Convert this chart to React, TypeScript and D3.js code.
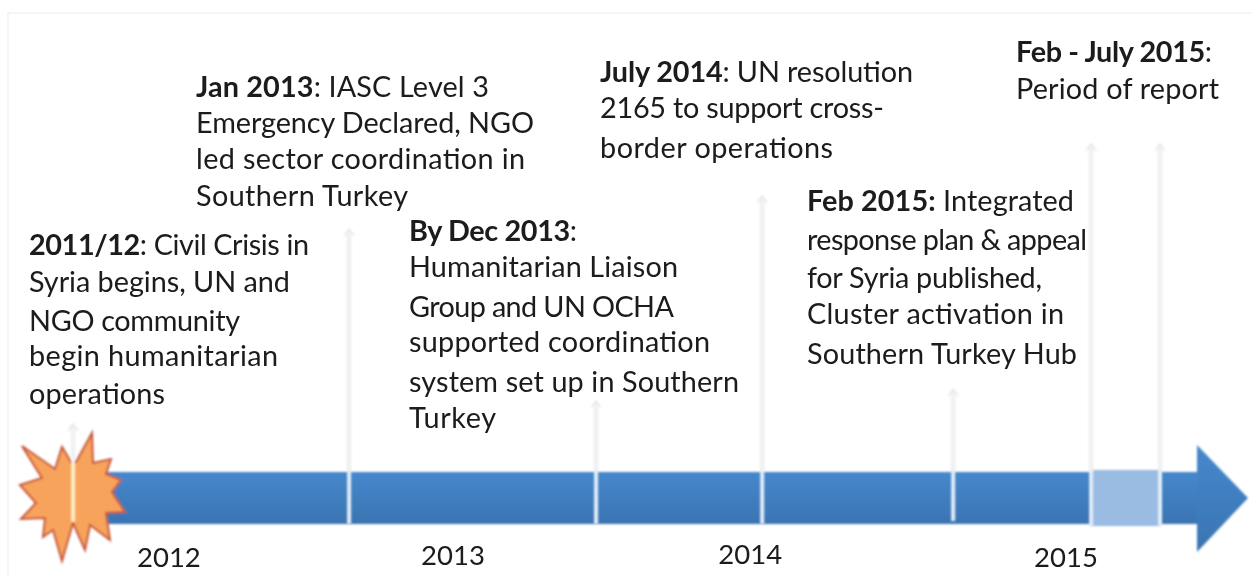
import React from "react";
import * as d3 from "d3";

const W = 1252, H = 576;
const yearLabels = ["2012", "2013", "2014", "2015"];
const yearPositions = [2012.003, 2012.952, 2013.945, 2015];
const yearBaselines = [567, 565, 564, 567];
const eventTimes = [2011.683, 2012.605, 2013.43, 2013.985, 2014.623, 2015.084, 2015.314];
const eventTops = [425, 230, 402, 197, 390, 145, 145];
const eventBottoms = [522, 524, 524, 524, 521, 526, 526];
const reportPeriod = [2015.084, 2015.314];

const block1 = [["2011/12", ": Civil Crisis in"], ["", "Syria begins, UN and"], ["", "NGO community"], ["", "begin humanitarian"], ["", "operations"]];
const block2 = [["Jan 2013", ": IASC Level 3"], ["", "Emergency Declared, NGO"], ["", "led sector coordination in"], ["", "Southern Turkey"]];
const block3 = [["By Dec 2013", ":"], ["", "Humanitarian Liaison"], ["", "Group and UN OCHA"], ["", "supported coordination"], ["", "system set up in Southern"], ["", "Turkey"]];
const block4 = [["July 2014", ": UN resolution"], ["", "2165 to support cross-"], ["", "border operations"]];
const block5 = [["Feb 2015:", " Integrated"], ["", "response plan & appeal"], ["", "for Syria published,"], ["", "Cluster activation in"], ["", "Southern Turkey Hub"]];
const block6 = [["Feb - July 2015", ":"], ["", "Period of report"]];
const blocks = [block1, block2, block3, block4, block5, block6];
const blockX = [29, 196, 409, 600, 807, 1016];
const blockBaselines = [
  [255, 292, 331, 366, 404],
  [97, 133, 169, 206],
  [241, 277, 317, 352, 392, 428],
  [82, 118, 158],
  [211, 250, 288, 324, 364],
  [62, 99],
];
const blockLineEnds = [
  [309, 290, 240, 278, 165],
  [489, 534, 525, 408],
  [577, 678, 674, 710, 739, 496],
  [913, 884, 833],
  [1074, 1087, 1042, 1064, 1077],
  [1212, 1219],
];

// starburst outline
const burst: [number, number][] = [
  [22, 446], [55, 469], [62, 447], [71, 462], [76, 462], [92, 433], [93, 463], [111, 459], [106, 474],
  [121, 480], [112, 492], [125, 512], [106, 513], [110, 540], [90, 525], [85, 550], [73, 523],
  [62, 561], [53, 530], [43, 537], [45, 518], [21, 519], [36, 503], [20, 485], [42, 478],
];
const shaftX = [100, 1197], shaftY = [472, 524];
const head: [number, number][] = [[1197, 445], [1248, 498], [1197, 552]];

const x = d3.scaleLinear().domain([2012, 2015]).range([168, 1066]);
const poly = d3.line().curve(d3.curveLinearClosed);
const font = "Lato, 'Open Sans', sans-serif";

export default function App() {
  return (
    <svg width={W} height={H} style={{ position: "fixed", left: 0, top: 0, background: "#fff" }}>
      <defs>
        <linearGradient id="bar" x1="0" x2="0" y1="0" y2="1">
          <stop offset="0" stopColor="#4688cd" />
          <stop offset="1" stopColor="#3a74b2" />
        </linearGradient>
        <filter id="soft" x="-5%" y="-5%" width="110%" height="110%"><feGaussianBlur stdDeviation="0.4" /></filter>
        <filter id="glow" x="-10%" y="-10%" width="120%" height="120%"><feGaussianBlur stdDeviation="0.8" /></filter>
      </defs>
      <path d={`M8,${H}V13H${W}`} fill="none" stroke="#f2f2f2" strokeWidth={1.5} />
      <g filter="url(#glow)">
        <rect x={shaftX[0]} y={shaftY[0]} width={shaftX[1] - shaftX[0]} height={shaftY[1] - shaftY[0]} fill="url(#bar)" />
        <path d={poly(head) ?? ""} fill="url(#bar)" />
        <rect x={x(reportPeriod[0])} y={470} width={x(reportPeriod[1]) - x(reportPeriod[0])} height={56} fill="#9abbe2" />
        <path d={poly(burst) ?? ""} fill="#f7a35c" stroke="#c8553c" strokeWidth={2} />
      </g>
      <g filter="url(#glow)">
        {eventTimes.map((t, i) => {
          const px = x(t);
          const top = eventTops[i];
          const onBurst = i === 0;
          return (
            <g key={i}>
              <line x1={px} x2={px} y1={top} y2={472} stroke="#e6e6e6" strokeWidth={4} />
              <line x1={px} x2={px} y1={top} y2={472} stroke="#fbfbfb" strokeWidth={1.5} />
              <line x1={px} x2={px} y1={onBurst ? 464 : 470} y2={eventBottoms[i]} stroke={onBurst ? "#fdeec8" : "#e4eef8"} strokeWidth={4} />
              <path d={`M${px - 5},${top + 6}L${px},${top - 1}L${px + 5},${top + 6}`} fill="none" stroke="#e0e0e0" strokeWidth={1.2} />
            </g>
          );
        })}
      </g>
      <g filter="url(#soft)" fontFamily={font} fontSize={28.8} fill="#1a1a1a">
        {blocks.map((b, i) => (
          <g key={i}>
            {b.map(([bold, rest], j) => (
              <text key={j} x={blockX[i]} y={blockBaselines[i][j]} textLength={blockLineEnds[i][j] - blockX[i]} lengthAdjust="spacing">
                {bold && <tspan fontWeight={700}>{bold}</tspan>}
                <tspan>{rest}</tspan>
              </text>
            ))}
          </g>
        ))}
      </g>
      <g filter="url(#soft)" fontFamily={font} fontSize={27.5} fill="#1a1a1a">
        {yearLabels.map((l, i) => (
          <text key={l} x={x(yearPositions[i])} y={yearBaselines[i]} textAnchor="middle">{l}</text>
        ))}
      </g>
    </svg>
  );
}
